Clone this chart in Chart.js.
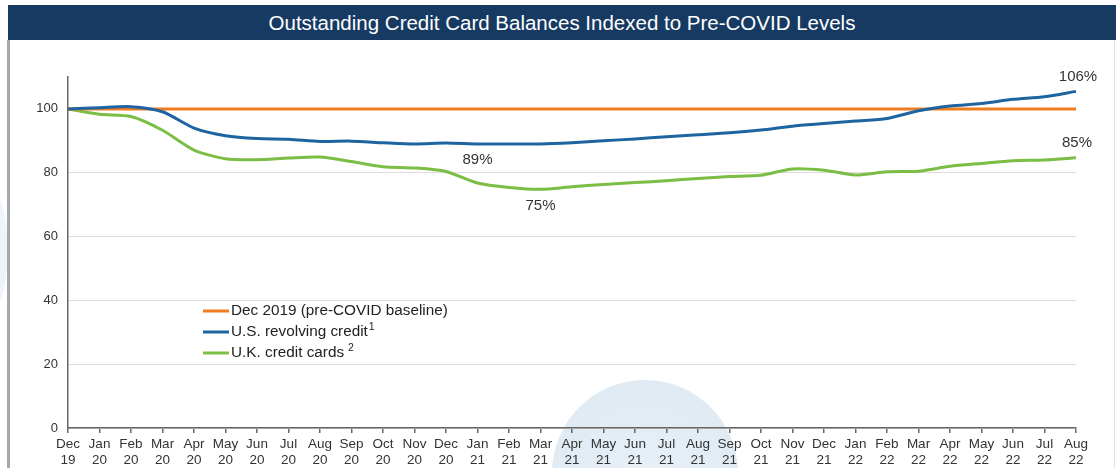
<!DOCTYPE html>
<html>
<head>
<meta charset="utf-8">
<script src="https://cdn.jsdelivr.net/npm/chart.js@4/dist/chart.umd.min.js"></script>
<style>
  html, body { margin: 0; padding: 0; background: #ffffff; }
  #wrap { position: relative; width: 1116px; height: 468px; overflow: hidden; background: #fff; }
  #circle { position: absolute; left: 552px; top: 380px; width: 186px; height: 186px; border-radius: 50%;
            background: radial-gradient(circle at 50% 60%, #e9f1f8 0%, #dce8f2 100%); }
  #leftblob { position: absolute; left: -50px; top: 175px; width: 58px; height: 150px; border-radius: 50%; background: #eef4f9; }
  #titlebar { position: absolute; left: 8px; top: 5px; width: 1108px; height: 35px; background: #173a63;
              color: #fff; font-family: "Liberation Sans", Arial, sans-serif; font-size: 20.5px;
              line-height: 35px; text-align: center; }
  #lborder { position: absolute; left: 7px; top: 40px; width: 3px; height: 428px; background: #a4a8ad; }
  #rborder { position: absolute; left: 1114px; top: 40px; width: 1px; height: 428px; background: #dde1e5; }
  canvas { position: absolute; left: 0; top: 0; }
</style>
</head>
<body>
<div id="wrap">
  <div id="circle"></div>
  <div id="leftblob"></div>
  <div id="lborder"></div>
  <div id="rborder"></div>
  <canvas id="c" width="1116" height="468"></canvas>
  <div id="titlebar">Outstanding Credit Card Balances Indexed to Pre-COVID Levels</div>
</div>
<script>
const categories = [
  ['Dec','19'],['Jan','20'],['Feb','20'],['Mar','20'],['Apr','20'],['May','20'],['Jun','20'],['Jul','20'],
  ['Aug','20'],['Sep','20'],['Oct','20'],['Nov','20'],['Dec','20'],['Jan','21'],['Feb','21'],['Mar','21'],
  ['Apr','21'],['May','21'],['Jun','21'],['Jul','21'],['Aug','21'],['Sep','21'],['Oct','21'],['Nov','21'],
  ['Dec','21'],['Jan','22'],['Feb','22'],['Mar','22'],['Apr','22'],['May','22'],['Jun','22'],['Jul','22'],['Aug','22']
];
const baseline = [100,100,100,100,100,100,100,100,100,100,100,100,100,100,100,100,100,100,100,100,100,100,100,100,100,100,100,100,100,100,100,100,100];
const usRevolving = [100, 100.4, 100.7, 99.1, 94.0, 91.6, 90.7, 90.5, 89.8, 89.9, 89.4, 89.0, 89.3,
  89.0, 89.0, 89.0, 89.4, 90.0, 90.6, 91.3, 91.9, 92.5, 93.4, 94.6, 95.4,
  96.2, 97.0, 99.4, 100.9, 101.7, 103.0, 103.8, 105.5];
const ukCards = [100, 98.3, 97.6, 93.3, 87.1, 84.4, 84.1, 84.6, 84.9, 83.5, 81.9, 81.5, 80.4,
  76.8, 75.4, 74.8, 75.6, 76.3, 76.9, 77.5, 78.2, 78.8, 79.2, 81.2, 80.8,
  79.3, 80.3, 80.5, 82.0, 82.9, 83.75, 84.0, 84.7];
const seriesNames = ['Dec 2019 (pre-COVID baseline)', 'U.S. revolving credit', 'U.K. credit cards'];
const seriesSup = ['', '1', '2'];
const yTicks = [0, 20, 40, 60, 80, 100];
const callouts = [
  { text: '106%', ds: 1, idx: 32, dx: 2, dy: -14 },
  { text: '85%', ds: 2, idx: 32, dx: 1, dy: -15 },
  { text: '89%', ds: 1, idx: 13, dx: 0, dy: 16 },
  { text: '75%', ds: 2, idx: 15, dx: 0, dy: 17 }
];
const colors = ['#ee7d22', '#1d64a0', '#7cbd45'];

const FONT = '"Liberation Sans", Arial, sans-serif';

const overlay = {
  id: 'overlay',
  afterDatasetsDraw(chart) {
    const ctx = chart.ctx;
    ctx.save();
    ctx.fillStyle = '#333';
    ctx.font = '15px ' + FONT;
    ctx.textAlign = 'center';
    ctx.textBaseline = 'middle';
    callouts.forEach(c => {
      const pt = chart.getDatasetMeta(c.ds).data[c.idx];
      ctx.fillText(c.text, pt.x + c.dx, pt.y + c.dy);
    });
    const lx = 203, ly = 311, step = 21;
    seriesNames.forEach((name, i) => {
      const y = ly + i * step;
      ctx.strokeStyle = colors[i];
      ctx.lineWidth = 3;
      ctx.beginPath();
      ctx.moveTo(lx, y);
      ctx.lineTo(lx + 26, y);
      ctx.stroke();
      ctx.fillStyle = '#222';
      ctx.font = '15.3px ' + FONT;
      ctx.textAlign = 'left';
      ctx.textBaseline = 'middle';
      ctx.fillText(name, lx + 28, y);
      if (seriesSup[i]) {
        const w = ctx.measureText(name).width;
        ctx.font = '10.5px ' + FONT;
        ctx.fillText(seriesSup[i], lx + 28 + w + (i === 1 ? 1 : 4), y - 5);
      }
    });
    ctx.restore();
  }
};

new Chart(document.getElementById('c'), {
  type: 'line',
  data: {
    labels: categories,
    datasets: [
      { label: seriesNames[0], data: baseline, borderColor: colors[0], borderWidth: 3, pointRadius: 0, tension: 0, order: 2 },
      { label: seriesNames[1], data: usRevolving, borderColor: colors[1], borderWidth: 3, pointRadius: 0, tension: 0.25, order: 1 },
      { label: seriesNames[2], data: ukCards, borderColor: colors[2], borderWidth: 3, pointRadius: 0, tension: 0.25, order: 3 }
    ]
  },
  options: {
    responsive: false,
    animation: false,
    devicePixelRatio: 1,
    layout: { padding: { top: 77, right: 40, left: 0, bottom: 0 } },
    plugins: { legend: { display: false }, tooltip: { enabled: false } },
    scales: {
      x: {
        offset: false,
        grid: { display: true, drawOnChartArea: false, drawTicks: true, tickLength: 5, color: '#666', lineWidth: 1.5 },
        border: { color: '#666', width: 1.5 },
        ticks: { autoSkip: false, maxRotation: 0, minRotation: 0, color: '#333', font: { family: FONT, size: 13.5, lineHeight: 1.2 }, padding: 3 },
        afterFit(s) { s.height = 40; }
      },
      y: {
        min: 0, max: 110,
        afterBuildTicks(s) { s.ticks = yTicks.map(v => ({ value: v })); },
        grid: { color: '#dedede', lineWidth: 1, drawTicks: false },
        border: { color: '#666', width: 1.5 },
        ticks: { color: '#333', font: { family: FONT, size: 13 }, padding: 10 },
        afterFit(s) { s.width = 68; }
      }
    }
  },
  plugins: [overlay]
});
</script>
</body>
</html>
